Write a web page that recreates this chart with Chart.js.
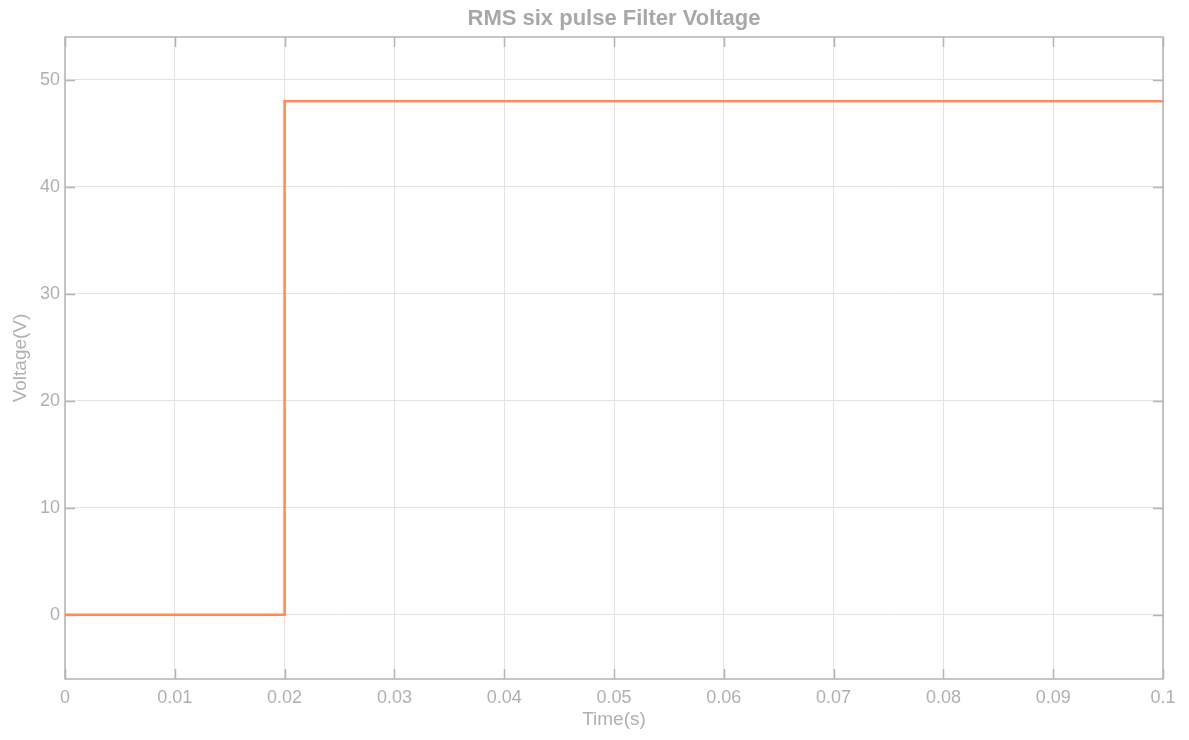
<!DOCTYPE html>
<html>
<head>
<meta charset="utf-8">
<title>RMS six pulse Filter Voltage</title>
<script src="https://cdn.jsdelivr.net/npm/chart.js@4/dist/chart.umd.min.js"></script>
<style>
  html, body { margin: 0; padding: 0; background: #fff; }
  #chart { display: block; }
</style>
</head>
<body>
<canvas id="chart" width="1189" height="740"></canvas>
<script>
// 6パルス整流後のフィルタ電圧（RMS）
const times = [0, 0.02, 0.02, 0.1];
const voltage = [0, 0, 48, 48];

const xTicks = [0, 0.01, 0.02, 0.03, 0.04, 0.05, 0.06, 0.07, 0.08, 0.09, 0.1];
const yTicks = [0, 10, 20, 30, 40, 50];

const titleText = 'RMS six pulse Filter Voltage';
const xTitle = 'Time(s)';
const yTitle = 'Voltage(V)';

const fontFamily = '"Liberation Sans", Arial, sans-serif';
const axisGray = '#b4b4b4';
const labelGray = '#b0b0b0';
const gridGray = '#e3e3e3';
const lineColor = 'rgb(255, 138, 88)';

// 枠線と内向きの目盛り、タイトル
const framePlugin = {
  id: 'frame',
  beforeDatasetsDraw(chart) {
    const { ctx, chartArea: a, scales: { x, y } } = chart;
    ctx.save();
    ctx.strokeStyle = axisGray;
    ctx.lineWidth = 1.5;
    ctx.strokeRect(a.left, a.top, a.right - a.left, a.bottom - a.top);
    ctx.beginPath();
    const tl = 10;
    xTicks.forEach(v => {
      const px = Math.round(x.getPixelForValue(v)) + 0.5;
      ctx.moveTo(px, a.bottom); ctx.lineTo(px, a.bottom - tl);
      ctx.moveTo(px, a.top); ctx.lineTo(px, a.top + tl);
    });
    yTicks.forEach(v => {
      const py = Math.round(y.getPixelForValue(v)) + 0.5;
      ctx.moveTo(a.left, py); ctx.lineTo(a.left + tl, py);
      ctx.moveTo(a.right, py); ctx.lineTo(a.right - tl, py);
    });
    ctx.stroke();
    ctx.restore();
  },
  afterDraw(chart) {
    const { ctx, chartArea: a } = chart;
    ctx.save();
    ctx.fillStyle = '#a8a8a8';
    ctx.font = 'bold 22px ' + fontFamily;
    ctx.textAlign = 'center';
    ctx.textBaseline = 'middle';
    ctx.fillText(titleText, (a.left + a.right) / 2, 19);
    ctx.restore();
  }
};

new Chart(document.getElementById('chart'), {
  type: 'line',
  data: {
    datasets: [{
      data: times.map((t, i) => ({ x: t, y: voltage[i] })),
      borderColor: lineColor,
      borderWidth: 2.5,
      pointRadius: 0,
      fill: false,
      tension: 0
    }]
  },
  options: {
    responsive: false,
    animation: false,
    layout: { padding: { top: 37, right: 26, left: 0, bottom: 0 } },
    plugins: {
      legend: { display: false },
      tooltip: { enabled: false }
    },
    scales: {
      x: {
        type: 'linear',
        min: 0,
        max: 0.1,
        afterBuildTicks: s => { s.ticks = xTicks.map(v => ({ value: v })); },
        afterFit: s => { s.height = 61; },
        grid: { color: gridGray, lineWidth: 1, drawTicks: false },
        border: { display: false },
        ticks: {
          color: labelGray,
          padding: 8,
          maxRotation: 0,
          autoSkip: false,
          font: { family: fontFamily, size: 18 },
          callback: v => String(Number(v.toFixed(2)))
        },
        title: {
          display: true,
          text: xTitle,
          color: labelGray,
          padding: { top: 0, bottom: 8.5 },
          font: { family: fontFamily, size: 19 }
        }
      },
      y: {
        type: 'linear',
        min: -6,
        max: 54,
        afterBuildTicks: s => { s.ticks = yTicks.map(v => ({ value: v })); },
        afterFit: s => { s.width = 65; },
        grid: { color: gridGray, lineWidth: 1, drawTicks: false },
        border: { display: false },
        ticks: {
          color: labelGray,
          padding: 5,
          autoSkip: false,
          font: { family: fontFamily, size: 18 }
        },
        title: {
          display: true,
          text: yTitle,
          color: labelGray,
          padding: { top: 9, bottom: 0 },
          font: { family: fontFamily, size: 19 }
        }
      }
    }
  },
  plugins: [framePlugin]
});
</script>
</body>
</html>
